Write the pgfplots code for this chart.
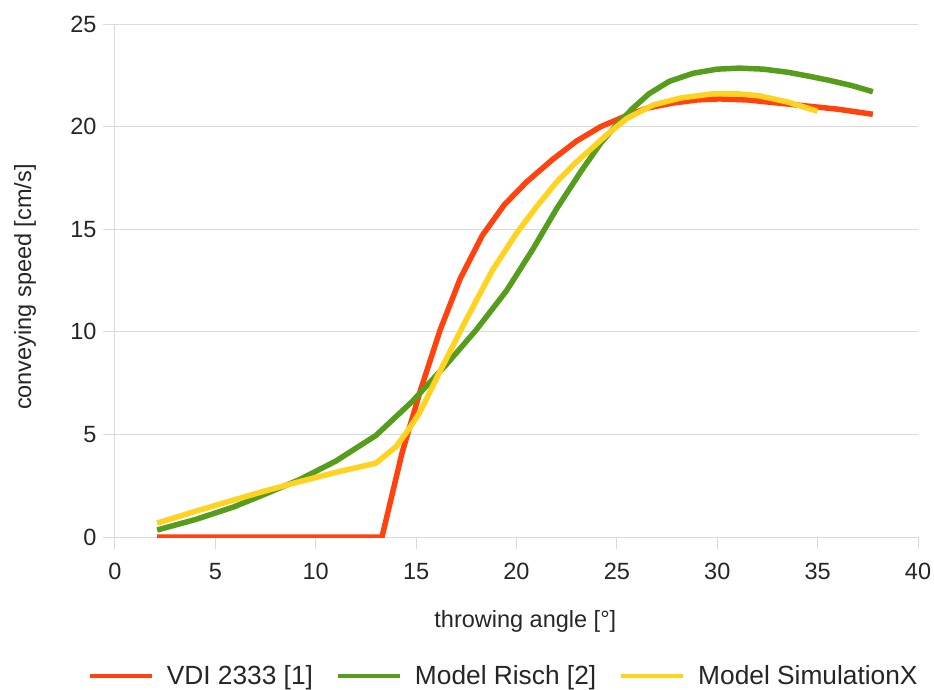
\documentclass[border=0pt]{standalone}
\usepackage{pgfplots}
\pgfplotsset{compat=1.18}
\usepackage{fontspec}
\setmainfont{Liberation Sans}
\definecolor{cRed}{HTML}{FF420E}
\definecolor{cGreen}{HTML}{579D1C}
\definecolor{cYellow}{HTML}{FFD320}
\definecolor{cGrid}{HTML}{DADADA}
\pgfplotsset{legend image code/.code={\draw[#1,line width=4.5pt] (0pt,0pt) -- (62pt,0pt); \path (72pt,0pt);}}
\begin{document}
\begin{tikzpicture}
\useasboundingbox (-115pt,-152pt) rectangle (819pt,537pt);
\begin{axis}[
  scale only axis, width=803pt, height=513pt,
  xmin=0, xmax=40, ymin=0, ymax=25,
  xtick={0,5,...,40}, ytick={0,5,...,25},
  axis lines*=left,
  axis line style={cGrid, line width=1pt},
  ymajorgrids, grid style={cGrid, line width=1pt},
  clip mode=individual,
  major tick length=0pt,
  tick style={draw=none},
  /pgf/number format/assume math mode=true,
  tick label style={font=\fontsize{23.5}{28}\selectfont, text=black!85},
  xticklabel style={yshift=-23pt},
  yticklabel style={xshift=-15pt},
  xlabel={throwing angle [°]}, ylabel={conveying speed [cm/s]},
  label style={font=\fontsize{23.5}{28}\selectfont, text=black!85},
  xlabel style={at={(axis description cs:0.511,0)}, anchor=center, yshift=-84pt},
  ylabel style={at={(axis description cs:-0.112,0.487)}, anchor=center},
  legend columns=3,
  legend style={draw=none, at={(axis description cs:0.484,0)}, anchor=center, yshift=-139pt,
    font=\fontsize{26.3}{30}\selectfont, text=black!85,
    /tikz/every even column/.append style={column sep=21pt}},
  every axis plot/.append style={line width=5.5pt, line join=round},
]
\pgfplotsinvokeforeach{0,5,...,40}{\draw[cGrid, line width=1pt] (axis cs:#1,0) -- ++(0pt,-12pt);}
\pgfplotsinvokeforeach{0,5,...,25}{\draw[cGrid, line width=1pt] (axis cs:0,#1) -- ++(-12pt,0pt);}
\addplot[cRed] coordinates {
(2.1,0) (13.3,0) (14.3,4.1) (15.2,7.1) (16.2,10.1) (17.2,12.6) (18.3,14.7) (19.4,16.2)
(20.5,17.3) (21.8,18.4) (23.0,19.3) (24.2,20.0) (25.4,20.5) (26.5,20.9) (27.8,21.15)
(29.0,21.3) (30.1,21.35) (31.5,21.3) (33.0,21.15) (34.5,21.0) (36.0,20.85) (37.75,20.6)
};
\addlegendentry{VDI 2333 [1]}
\addplot[cGreen] coordinates {
(2.1,0.34) (4,0.85) (5.9,1.46) (7.5,2.1) (9.2,2.8) (11,3.7) (13.0,4.95) (14.8,6.6)
(16.5,8.4) (18.0,10.1) (19.5,12.0) (20.8,14.0) (22.0,16.0) (23.2,17.8) (24.2,19.2)
(25.0,20.1) (25.8,20.9) (26.6,21.6) (27.6,22.2) (28.8,22.6) (30.0,22.8) (31.1,22.85)
(32.3,22.8) (33.5,22.65) (34.6,22.45) (35.6,22.25) (36.7,22.0) (37.75,21.7)
};
\addlegendentry{Model Risch [2]}
\addplot[cYellow] coordinates {
(2.1,0.68) (4,1.25) (5.9,1.8) (7.5,2.25) (9.2,2.7) (11,3.15) (13.0,3.6) (14.0,4.4)
(14.6,5.2) (15.2,6.1) (16.2,8.1) (17.5,10.6) (18.8,13.0) (20.0,14.8) (21.0,16.1)
(22.0,17.3) (22.9,18.2) (23.7,18.9) (24.5,19.6) (25.5,20.4) (26.8,21.05) (28.2,21.4)
(29.8,21.6) (31.0,21.6) (32.1,21.5) (33.5,21.2) (35.0,20.75)
};
\addlegendentry{Model SimulationX}
\end{axis}
\end{tikzpicture}
\end{document}
